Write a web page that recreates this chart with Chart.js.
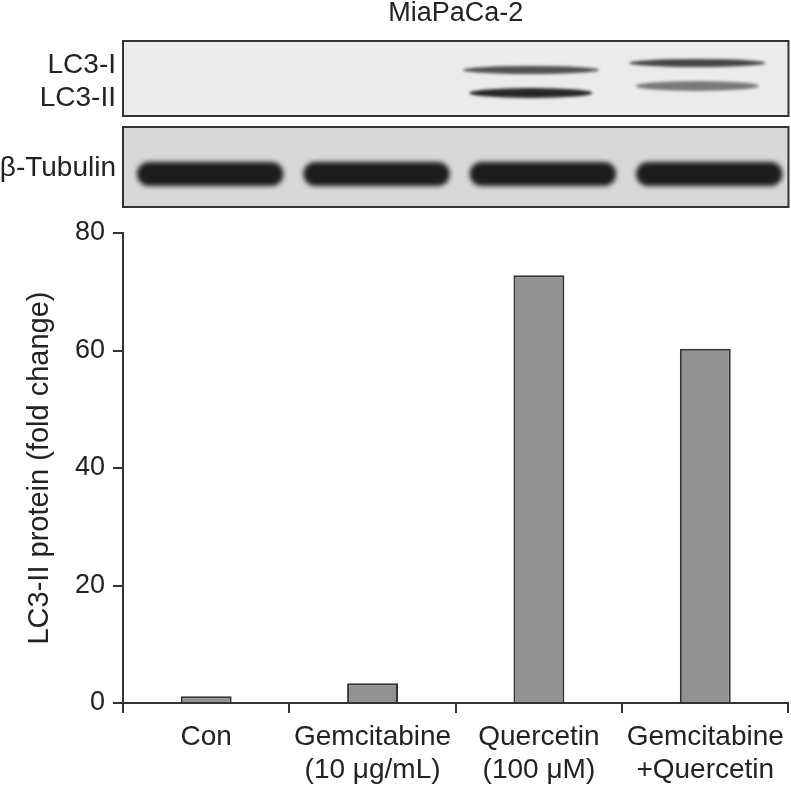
<!DOCTYPE html>
<html lang="en">
<head>
  <meta charset="UTF-8" />
  <title>MiaPaCa-2 LC3-II</title>
  <script src="https://cdn.jsdelivr.net/npm/chart.js"></script>
  <style>
    body {
      margin: 0;
      background: #fff;
    }
    .chart-box {
      position: relative;
      width: 791px;
      height: 785px;
    }
  </style>
</head>
<body>

  <div class="chart-box">
    <canvas id="lc3Chart"></canvas>
  </div>

  <script>
    const categories = [['Con'], ['Gemcitabine', '(10 μg/mL)'], ['Quercetin', '(100 μM)'], ['Gemcitabine', '+Quercetin']];
    const foldChange = [1.15, 3.35, 72.8, 60.3];
    const yTicks = [0, 20, 40, 60, 80];

    // band darkness per lane read off the blot (0 = no band)
    const lc3IBand = [0, 0, 0.75, 0.8];
    const lc3IIBand = [0, 0, 0.95, 0.55];
    const tubulinBand = [1, 1, 1, 1];

    const FONT = '"Liberation Sans", Arial, sans-serif';
    Chart.defaults.font.family = FONT;

    function band(ctx, cx, cy, w, h, alpha, blur, round) {
      if (alpha <= 0) return;
      ctx.save();
      ctx.filter = `blur(${blur}px)`;
      ctx.globalAlpha = alpha;
      ctx.fillStyle = '#1c1c1c';
      ctx.beginPath();
      if (round) {
        ctx.roundRect(cx - w / 2, cy - h / 2, w, h, h / 2);
      } else {
        ctx.ellipse(cx, cy, w / 2, h / 2, 0, 0, Math.PI * 2);
      }
      ctx.fill();
      ctx.restore();
    }

    function panel(ctx, x, y, w, h, bg, drawBands) {
      ctx.save();
      ctx.fillStyle = bg;
      ctx.fillRect(x, y, w, h);
      ctx.beginPath();
      ctx.rect(x, y, w, h);
      ctx.clip();
      drawBands();
      ctx.restore();
      ctx.save();
      ctx.strokeStyle = '#333';
      ctx.lineWidth = 2;
      ctx.strokeRect(x, y, w, h);
      ctx.restore();
    }

    // western blot panels above the bar chart, lanes follow the x scale
    const blotPlugin = {
      id: 'blot',
      afterDraw(chart) {
        const ctx = chart.ctx;
        const xs = chart.scales.x;
        const { left, right } = chart.chartArea;
        const step = (right - left) / categories.length;
        const laneShift = [0, 0, 3, -4];

        ctx.save();
        ctx.fillStyle = '#222';
        ctx.textAlign = 'center';
        ctx.textBaseline = 'middle';
        ctx.font = `27px ${FONT}`;
        ctx.fillText('MiaPaCa-2', (left + right) / 2, 14);

        ctx.textAlign = 'right';
        ctx.font = `28px ${FONT}`;
        ctx.fillText('LC3-I', 116, 65);
        ctx.fillText('LC3-II', 116, 98);
        ctx.fillText('β-Tubulin', 116, 168);
        ctx.restore();

        panel(ctx, left, 41, right - left, 75, '#ebebeb', () => {
          categories.forEach((c, i) => {
            const cx = xs.getPixelForValue(i) - 8;
            band(ctx, cx, 67 + laneShift[i], step * 0.82, 8, lc3IBand[i], 1.8, false);
            band(ctx, cx, 90 + laneShift[i], step * 0.74, 10, lc3IIBand[i], 1.8, false);
          });
        });

        panel(ctx, left, 127, right - left, 80, '#d8d8d8', () => {
          categories.forEach((c, i) => {
            const cx = xs.getPixelForValue(i) + 4;
            band(ctx, cx, 174, step * 0.88, 24, tubulinBand[i], 2.5, true);
          });
        });
      }
    };

    const ctx = document.getElementById('lc3Chart').getContext('2d');
    new Chart(ctx, {
      type: 'bar',
      data: {
        labels: categories,
        datasets: [{
          data: foldChange,
          backgroundColor: '#919191',
          borderColor: '#333',
          borderWidth: 2,
          barPercentage: 0.306,
          categoryPercentage: 1
        }]
      },
      options: {
        responsive: true,
        maintainAspectRatio: false,
        animation: false,
        layout: { padding: { top: 233, right: 1, left: 0, bottom: 0 } },
        plugins: {
          legend: { display: false },
          tooltip: { enabled: false }
        },
        scales: {
          x: {
            afterFit: s => { s.height = 82; },
            border: { color: '#333', width: 2 },
            grid: { drawOnChartArea: false, offset: true, tickLength: 10, color: '#333', lineWidth: 2 },
            ticks: { color: '#222', font: { size: 28, lineHeight: 1.2 }, padding: 7, maxRotation: 0, autoSkip: false }
          },
          y: {
            min: 0,
            max: 80,
            afterBuildTicks: s => { s.ticks = yTicks.map(v => ({ value: v })); },
            afterFit: s => { s.width = 123; },
            border: { color: '#333', width: 2 },
            grid: { drawOnChartArea: false, tickLength: 10, color: '#333', lineWidth: 2 },
            ticks: { color: '#222', font: { size: 27 }, padding: 8 },
            title: {
              display: true,
              text: 'LC3-II protein (fold change)',
              color: '#222',
              font: { size: 29 },
              padding: { top: 23, bottom: 0 }
            }
          }
        }
      },
      plugins: [blotPlugin]
    });
  </script>

</body>
</html>
